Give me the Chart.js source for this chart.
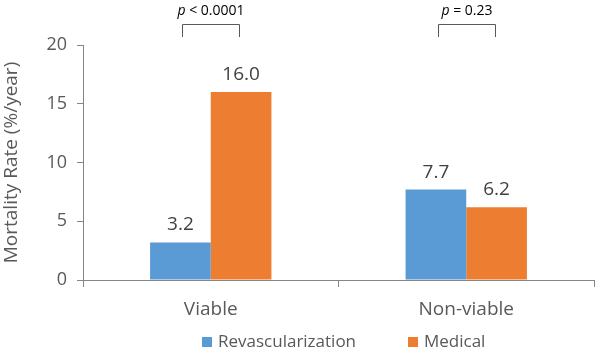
<!DOCTYPE html>
<html>
<head>
<meta charset="utf-8">
<script src="https://cdn.jsdelivr.net/npm/chart.js@4/dist/chart.umd.min.js"></script>
<style>
html,body{margin:0;padding:0;background:#fff;}
#wrap{width:600px;height:354px;position:relative;}
</style>
</head>
<body>
<div id="wrap"><canvas id="c" width="600" height="354"></canvas></div>
<script>
const categories = ["Viable", "Non-viable"];
const revascularization = [3.2, 7.7];
const medical = [16.0, 6.2];
const seriesNames = ["Revascularization", "Medical"];
const seriesColors = ["#5B9BD5", "#ED7D31"];
const pLabels = ["< 0.0001", "= 0.23"];
const yTicks = [0, 5, 10, 15, 20];

const FONT = "'Open Sans', sans-serif";
const TEXT = "#595959";
const AXIS = "#868686";

const labelsPlugin = {
  id: "labels",
  afterDatasetsDraw(chart) {
    const ctx = chart.ctx;
    ctx.save();
    ctx.fillStyle = "#404040";
    ctx.font = "19px " + FONT;
    ctx.textAlign = "center";
    ctx.textBaseline = "alphabetic";
    chart.data.datasets.forEach((ds, di) => {
      const meta = chart.getDatasetMeta(di);
      meta.data.forEach((bar, i) => {
        ctx.fillText(ds.data[i].toFixed(1), bar.x, bar.y - 12);
      });
    });
    // p-value brackets
    const m0 = chart.getDatasetMeta(0), m1 = chart.getDatasetMeta(1);
    ctx.strokeStyle = "#595959";
    ctx.lineWidth = 1;
    pLabels.forEach((pl, i) => {
      const x0 = Math.round(m0.data[i].x + 2) + 0.5;
      const x1 = Math.round(m1.data[i].x - 2) + 0.5;
      ctx.beginPath();
      ctx.moveTo(x0, 37);
      ctx.lineTo(x0, 24.5);
      ctx.lineTo(x1, 24.5);
      ctx.lineTo(x1, 37);
      ctx.stroke();
      const cx = (x0 + x1) / 2;
      ctx.font = "italic 14px " + FONT;
      const pw = ctx.measureText("p").width;
      ctx.font = "14px " + FONT;
      const rest = " " + pl;
      const rw = ctx.measureText(rest).width;
      const start = cx - (pw + rw) / 2;
      ctx.textAlign = "left";
      ctx.fillStyle = "#000";
      ctx.font = "italic 14px " + FONT;
      ctx.fillText("p", start, 15);
      ctx.font = "14px " + FONT;
      ctx.fillText(rest, start + pw, 15);
    });
    // legend
    const legendX = [202, 408];
    ctx.font = "17px " + FONT;
    ctx.textBaseline = "middle";
    seriesNames.forEach((name, i) => {
      ctx.fillStyle = seriesColors[i];
      ctx.fillRect(legendX[i], 337, 10, 10);
      ctx.fillStyle = TEXT;
      ctx.fillText(name, legendX[i] + 16, 342);
    });
    ctx.restore();
  }
};

new Chart(document.getElementById("c"), {
  type: "bar",
  data: {
    labels: categories,
    datasets: [
      { label: seriesNames[0], data: revascularization, backgroundColor: seriesColors[0], borderWidth: 0 },
      { label: seriesNames[1], data: medical, backgroundColor: seriesColors[1], borderWidth: 0 }
    ]
  },
  options: {
    responsive: false,
    animation: false,
    devicePixelRatio: 1,
    layout: { padding: { top: 45, right: 6, left: 0, bottom: 28 } },
    datasets: { bar: { categoryPercentage: 0.475, barPercentage: 1.0 } },
    plugins: {
      legend: { display: false },
      tooltip: { enabled: false }
    },
    scales: {
      x: {
        grid: { drawOnChartArea: false, drawTicks: true, tickLength: 7, color: AXIS, offset: true },
        border: { display: true, color: AXIS, width: 1 },
        ticks: { color: TEXT, font: { family: FONT, size: 19 }, padding: 11 },
        afterFit(s) { s.height = 46; }
      },
      y: {
        min: 0, max: 20,
        afterBuildTicks(s) { s.ticks = yTicks.map(v => ({ value: v })); },
        grid: { drawOnChartArea: false, drawTicks: true, tickLength: 6, color: AXIS },
        border: { display: true, color: AXIS, width: 1 },
        ticks: { color: TEXT, font: { family: FONT, size: 18 }, padding: 10 },
        title: { display: true, text: "Mortality Rate (%/year)", color: TEXT, font: { family: FONT, size: 19 }, padding: { top: 0, bottom: 2 } },
        afterFit(s) { s.width = 83; }
      }
    }
  },
  plugins: [labelsPlugin]
});
</script>
</body>
</html>
